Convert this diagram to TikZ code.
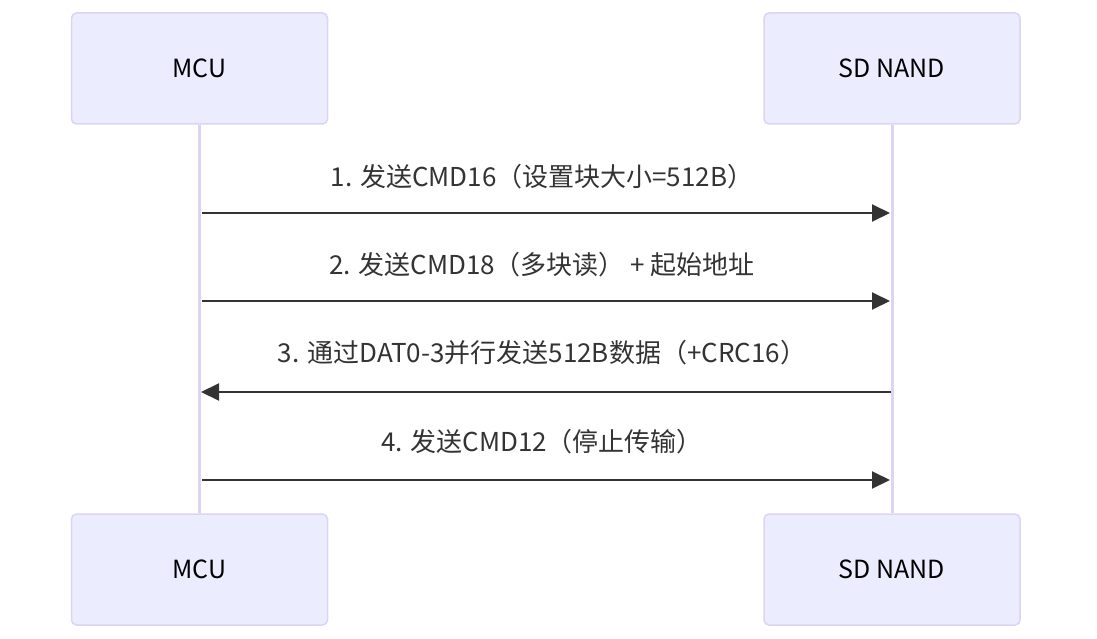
\documentclass[tikz,border=0pt]{standalone}
\usepackage{fontspec}
\setmainfont{Noto Sans CJK SC}
\usetikzlibrary{arrows.meta}
\usetikzlibrary{positioning}
\definecolor{actorfill}{HTML}{ECECFF}
\definecolor{actorline}{HTML}{DCD3F5}
\definecolor{msgline}{HTML}{333333}

\begin{document}
\begin{tikzpicture}[x=1pt, y=-1pt, font=\fontsize{25}{30}\selectfont,
    actor/.style={draw=actorline, line width=1.5pt, fill=actorfill, rounded corners=5pt,
                  minimum width=256pt, minimum height=111pt, inner sep=0pt, text=black},
    lifeline/.style={draw=actorline, line width=3pt},
    msg/.style={draw=msgline, line width=2pt, -{Triangle[length=18pt, width=17pt]}},
    msglabel/.style={inner sep=0pt, text=msgline, font=\fontsize{26}{31}\selectfont}]
  \useasboundingbox (0,0) rectangle (1097,639);
  % actors
  \node[actor] (mcu_top) at (199.5,68.5)  {MCU};
  \node[actor] (sd_top)  at (892,68.5)    {SD NAND};
  \node[actor] (mcu_bot) at (199.5,569.5) {MCU};
  \node[actor] (sd_bot)  at (892,569.5)   {SD NAND};
  \draw[lifeline] (mcu_top.south) -- (mcu_bot.north);
  \draw[lifeline] (sd_top.south)  -- (sd_bot.north);
  % message ends on the lifelines
  \coordinate (mcu_1) at (202,213);  \coordinate (sd_1) at (890,213);
  \coordinate (mcu_2) at (202,301);  \coordinate (sd_2) at (890,301);
  \coordinate (mcu_3) at (201,392);  \coordinate (sd_3) at (891,392);
  \coordinate (mcu_4) at (202,480);  \coordinate (sd_4) at (890,480);
  % messages
  \node[msglabel] (lab_1) at (542,177) {1. 发送CMD16（设置块大小=512B）};
  \node[msglabel] (lab_2) at (542,265) {2. 发送CMD18（多块读） + 起始地址};
  \node[msglabel] (lab_3) at (542,353) {3. 通过DAT0-3并行发送512B数据（+CRC16）};
  \node[msglabel] (lab_4) at (542,442) {4. 发送CMD12（停止传输）};
  \draw[msg] (mcu_1) -- (sd_1);
  \draw[msg] (mcu_2) -- (sd_2);
  \draw[msg] (sd_3)  -- (mcu_3);
  \draw[msg] (mcu_4) -- (sd_4);
\end{tikzpicture}
\end{document}
